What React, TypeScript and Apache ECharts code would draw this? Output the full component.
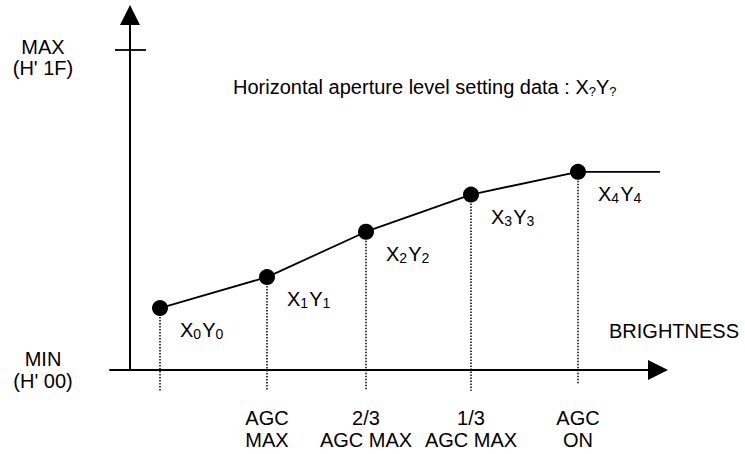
import React, { useEffect, useRef } from "react";
import * as echarts from "echarts";

// Setting points X0Y0 .. X4Y4 (brightness units, aperture level units H'00..H'1F)
const pointIndex = ["0", "1", "2", "3", "4"];
const pointX = [3, 13.7, 23.6, 34.1, 44.8];
const pointY = [6, 9, 13.4, 17, 19.2];
// lower end of the dotted drop lines (aperture level units, below the axis)
const dropBottom = [-2, -2, -2, -2, -1.3];
// the curve stays flat after X4Y4 up to here
const saturationEndX = 54.2;
// brightness tick labels under the drop lines (X0 has none)
const brightnessLabels = ["", "AGC\nMAX", "2/3\nAGC MAX", "1/3\nAGC MAX", "AGC\nON"];
const brightnessName = "BRIGHTNESS";
// aperture level range
const levelMin = 0; // H'00
const levelMax = 31; // H'1F
const levelMinLabel = "MIN\n(H' 00)";
const levelMaxLabel = ["MAX", "(H' 1F)"];
const maxTickX = [-1.5, 1.6];

const FONT = "'Liberation Sans', Arial, Helvetica, sans-serif";
const FS = 20;

export default function App() {
  const ref = useRef<HTMLDivElement>(null);

  useEffect(() => {
    if (!ref.current) return;
    const chart = echarts.init(ref.current, undefined, { renderer: "svg" });

    const labelTicks = pointX.filter((_, i) => brightnessLabels[i] !== "");

    const option: any = {
      animation: false,
      backgroundColor: "#ffffff",
      title: {
        text: "Horizontal aperture level setting data : X{s|?}Y{s|?}",
        left: 233,
        top: 76,
        padding: 0,
        textStyle: {
          fontSize: 20,
          fontWeight: "normal",
          color: "#000",
          fontFamily: FONT,
          lineHeight: 22,
          rich: {
            s: {
              fontSize: 13,
              color: "#000",
              fontFamily: FONT,
              verticalAlign: "bottom",
              lineHeight: 22,
            },
          },
        },
      },
      graphic: [
        {
          type: "text",
          left: 609,
          top: 321,
          silent: true,
          style: {
            text: brightnessName,
            fontSize: FS,
            fontFamily: FONT,
            fill: "#000",
          },
        },
      ],
      grid: {
        left: 110,
        right: 87,
        top: 15,
        bottom: 84,
        containLabel: false,
        outerBoundsMode: "none",
      },
      xAxis: {
        type: "value",
        min: -2,
        max: 52.8,
        axisLine: {
          show: true,
          onZero: false,
          symbol: ["none", "triangle"],
          symbolSize: [20, 20],
          lineStyle: { color: "#000", width: 2 },
        },
        axisTick: { show: false },
        splitLine: { show: false },
        axisLabel: {
          customValues: labelTicks,
          formatter: (v: number) => brightnessLabels[pointX.indexOf(v)] || "",
          margin: 37,
          lineHeight: 22,
          fontSize: FS,
          color: "#000",
          fontFamily: FONT,
        },
      },
      yAxis: {
        type: "value",
        min: 0,
        max: 34.4,
        axisLine: {
          show: true,
          onZero: true,
          symbol: ["none", "triangle"],
          symbolSize: [20, 20],
          lineStyle: { color: "#000", width: 2 },
        },
        axisTick: { show: false },
        splitLine: { show: false },
        axisLabel: {
          customValues: [levelMin, levelMax],
          formatter: (v: number) =>
            v === levelMax
              ? `{a|${levelMaxLabel[0]}}\n{b|${levelMaxLabel[1]}}`
              : levelMinLabel,
          align: "center",
          margin: 67,
          lineHeight: 22,
          fontSize: FS,
          color: "#000",
          fontFamily: FONT,
          rich: {
            a: { fontSize: FS, color: "#000", fontFamily: FONT, lineHeight: 36, align: "center" },
            b: { fontSize: FS, color: "#000", fontFamily: FONT, lineHeight: 6, align: "center" },
          },
        },
      },
      series: [
        {
          type: "custom",
          name: "drops",
          z: 1,
          clip: false,
          silent: true,
          data: pointX.map((x, i) => [x, pointY[i], dropBottom[i]]),
          renderItem: (_params: any, api: any) => {
            const top = api.coord([api.value(0), api.value(1)]);
            const bot = api.coord([api.value(0), api.value(2)]);
            return {
              type: "line",
              shape: { x1: top[0], y1: top[1], x2: bot[0], y2: bot[1] },
              style: { stroke: "#000", lineWidth: 1.5, lineDash: [1.5, 1.5] },
            };
          },
        },
        {
          type: "line",
          name: "setting",
          z: 3,
          clip: false,
          silent: true,
          symbol: "circle",
          symbolSize: 16,
          lineStyle: { color: "#000", width: 1.8 },
          itemStyle: { color: "#000" },
          label: {
            show: true,
            position: "right",
            distance: 12,
            offset: [0, 22],
            formatter: (p: any) => {
              const k = pointIndex[p.dataIndex];
              return `{m|X}{s|${k}}{m|Y}{s|${k}}`;
            },
            rich: {
              m: { fontSize: FS, color: "#000", fontFamily: FONT, lineHeight: 22 },
              s: {
                fontSize: 14,
                color: "#000",
                fontFamily: FONT,
                lineHeight: 22,
                verticalAlign: "bottom",
                padding: [0, 1, 0, 0],
              },
            },
          },
          data: [
            ...pointX.map((x, i) => ({ value: [x, pointY[i]] })),
            {
              value: [saturationEndX, pointY[pointY.length - 1]],
              symbol: "none",
              label: { show: false },
            },
          ],
          markLine: {
            silent: true,
            symbol: ["none", "none"],
            label: { show: false },
            lineStyle: { color: "#000", width: 1.8, type: "solid" },
            data: [[{ coord: [maxTickX[0], levelMax] }, { coord: [maxTickX[1], levelMax] }]],
          },
        },
      ],
    };

    chart.setOption(option);
    return () => chart.dispose();
  }, []);

  return (
    <div
      ref={ref}
      style={{ position: "absolute", left: 0, top: 0, width: 745, height: 454, background: "#fff" }}
    />
  );
}
